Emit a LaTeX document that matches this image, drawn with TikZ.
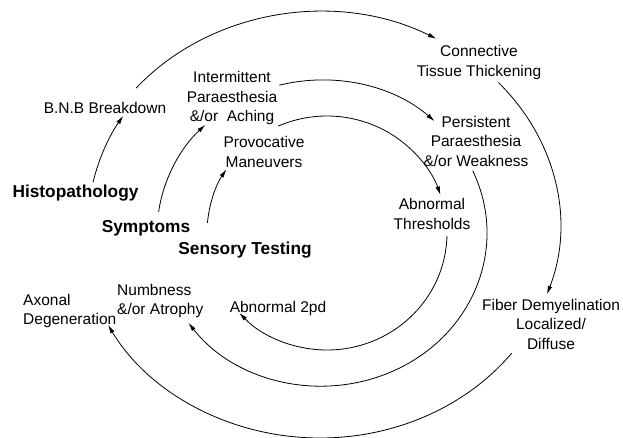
\documentclass[tikz,border=0pt]{standalone}
\usepackage{fontspec}
\setmainfont{Liberation Sans}
\usetikzlibrary{arrows.meta,calc}
\begin{document}
\begin{tikzpicture}[x=1pt,y=-1pt,
  lbl/.style={font=\fontsize{15.5}{19.5}\selectfont, align=center, inner sep=0pt},
  hd/.style={font=\fontsize{17.3}{21}\selectfont\bfseries, inner sep=0pt},
  arr/.style={line width=0.8pt, -{Latex[length=8.5pt,width=4.5pt]}}]
\useasboundingbox[fill=white] (0,0) rectangle (623,438);
% centres of the three rings
\coordinate (O1) at (320,225);
\coordinate (O2) at (322,233);
\coordinate (O3) at (327,233);
% nodes
\node[hd] (histo) at (75.5,193) {Histopathology};
\node[lbl] (bnb) at (105,108) {B.N.B Breakdown};
\node[lbl] (conn) at (479,62.5) {Connective\\Tissue Thickening};
\node[lbl] (fiber) at (551,324) {Fiber Demyelination\\Localized/\\Diffuse};
\node[lbl, align=left, anchor=west] (axon) at (23,311) {Axonal\\Degeneration};
\node[hd] (sympt) at (146,228) {Symptoms};
\node[lbl] (interm) at (232,98) {Intermittent\\Paraesthesia\\\&/or\ \ Aching};
\node[lbl] (persist) at (476,141) {Persistent\\Paraesthesia\\\&/or Weakness};
\node[lbl, align=left, anchor=west] (numb) at (117,301) {Numbness\\\&/or Atrophy};
\node[hd] (sens) at (245,250) {Sensory Testing};
\node[lbl] (provoc) at (264,152) {Provocative\\Maneuvers};
\node[lbl] (abth) at (432,214) {Abnormal\\Thresholds};
\node[lbl] (ab2pd) at (278,308) {Abnormal 2pd};
% outer ring: histopathology
\draw[arr] ($(O1)+(192:232 and 206)$) arc[start angle=192, end angle=212, x radius=232, y radius=206];
\draw[arr] ($(O1)+(220:240 and 213)$) arc[start angle=220, end angle=299, x radius=240, y radius=213];
\draw[arr] ($(O1)+(318:240 and 213)$) arc[start angle=318, end angle=379, x radius=240, y radius=213];
\draw[arr] ($(O1)+(37:240 and 213)$) arc[start angle=37, end angle=152, x radius=240, y radius=213];
% middle ring: symptoms
\draw[arr] ($(O2)+(188:165 and 153)$) arc[start angle=188, end angle=225, x radius=165, y radius=153];
\draw[arr] ($(O2)+(255:165 and 153)$) arc[start angle=255, end angle=313, x radius=165, y radius=153];
\draw[arr] ($(O2)+(336:165 and 153)$) arc[start angle=336, end angle=504, x radius=165, y radius=153];
% inner ring: sensory testing
\draw[arr] ($(O3)+(185:120 and 117)$) arc[start angle=185, end angle=213, x radius=120, y radius=117];
\draw[arr] ($(O3)+(246:120 and 117)$) arc[start angle=246, end angle=341, x radius=120, y radius=117];
\draw[arr] ($(O3)+(1.5:120 and 117)$) arc[start angle=1.5, end angle=137, x radius=120, y radius=117];
\end{tikzpicture}
\end{document}
